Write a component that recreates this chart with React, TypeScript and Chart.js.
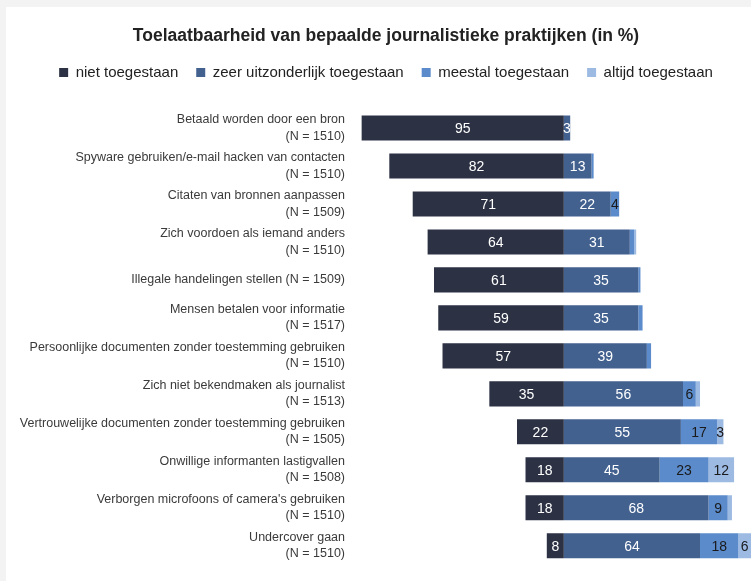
import React, { useEffect, useRef } from "react";
import { Chart, registerables } from "chart.js";

Chart.register(...registerables);

const titleText = "Toelaatbaarheid van bepaalde journalistieke praktijken (in %)";

const categories: (string | string[])[] = [
  ["Betaald worden door een bron", "(N = 1510)"],
  ["Spyware gebruiken/e-mail hacken van contacten", "(N = 1510)"],
  ["Citaten van bronnen aanpassen", "(N = 1509)"],
  ["Zich voordoen als iemand anders", "(N = 1510)"],
  "Illegale handelingen stellen (N = 1509)",
  ["Mensen betalen voor informatie", "(N = 1517)"],
  ["Persoonlijke documenten zonder toestemming gebruiken", "(N = 1510)"],
  ["Zich niet bekendmaken als journalist", "(N = 1513)"],
  ["Vertrouwelijke documenten zonder toestemming gebruiken", "(N = 1505)"],
  ["Onwillige informanten lastigvallen", "(N = 1508)"],
  ["Verborgen microfoons of camera's gebruiken", "(N = 1510)"],
  ["Undercover gaan", "(N = 1510)"],
];

const seriesNames = [
  "niet toegestaan",
  "zeer uitzonderlijk toegestaan",
  "meestal toegestaan",
  "altijd toegestaan",
];

// "niet toegestaan" is drawn to the left of zero
const nietToegestaan = [95, 82, 71, 64, 61, 59, 57, 35, 22, 18, 18, 8];
const zeerUitzonderlijk = [3, 13, 22, 31, 35, 35, 39, 56, 55, 45, 68, 64];
const meestal = [0, 1, 4, 2, 1, 2, 2, 6, 17, 23, 9, 18];
const altijd = [0, 0, 0, 1, 0, 0, 0, 2, 3, 12, 2, 6];

const colors = ["#2c3244", "#42618f", "#5b8bcb", "#9dbae3"];
const labelColors = ["#ffffff", "#ffffff", "#1a1a1a", "#1a1a1a"];

const FONT = "'Liberation Sans', Arial, sans-serif";

const valueLabels = {
  id: "valueLabels",
  afterDatasetsDraw(chart: any) {
    const ctx = chart.ctx;
    ctx.save();
    ctx.font = `14px ${FONT}`;
    ctx.textAlign = "center";
    ctx.textBaseline = "middle";
    chart.data.datasets.forEach((ds: any, di: number) => {
      const meta = chart.getDatasetMeta(di);
      meta.data.forEach((bar: any, i: number) => {
        const v = Math.abs(ds.data[i]);
        if (v < 3) return;
        const p = bar.getProps(["x", "y", "base"], true);
        ctx.fillStyle = labelColors[di];
        ctx.fillText(String(v), (p.x + p.base) / 2, p.y + 1);
      });
    });
    ctx.restore();
  },
};

const legendSpacing = {
  id: "legendSpacing",
  beforeInit(chart: any) {
    const legend = chart.legend;
    if (!legend) return;
    const origFit = legend.fit;
    legend.fit = function () {
      origFit.call(this);
      this.height += 19;
    };
  },
};

export default function App() {
  const canvasRef = useRef<HTMLCanvasElement | null>(null);

  useEffect(() => {
    if (!canvasRef.current) return;
    const chart = new Chart(canvasRef.current, {
      type: "bar",
      data: {
        labels: categories,
        datasets: [
          { label: seriesNames[0], data: nietToegestaan.map((v) => -v), backgroundColor: colors[0] },
          { label: seriesNames[1], data: zeerUitzonderlijk, backgroundColor: colors[1] },
          { label: seriesNames[2], data: meestal, backgroundColor: colors[2] },
          { label: seriesNames[3], data: altijd, backgroundColor: colors[3] },
        ],
      },
      options: {
        indexAxis: "y",
        responsive: false,
        animation: false,
        maintainAspectRatio: false,
        layout: { padding: { left: 0, right: 0, top: 0, bottom: 4 } },
        datasets: {
          bar: { categoryPercentage: 1, barPercentage: 0.66, borderWidth: 0 },
        },
        scales: {
          x: {
            stacked: true,
            min: -100,
            max: 95,
            display: false,
            grid: { display: false },
          },
          y: {
            stacked: true,
            grid: { display: false, drawTicks: false },
            border: { display: false },
            afterFit: (scale: any) => {
              scale.width = 345;
            },
            ticks: {
              padding: 6,
              color: "#3a3a3a",
              font: { family: FONT, size: 12.5, lineHeight: 1.3 },
              autoSkip: false,
            },
          },
        },
        plugins: {
          title: {
            display: true,
            text: titleText,
            color: "#222222",
            font: { family: FONT, size: 17.5, weight: "bold", lineHeight: 1.2 },
            padding: { top: 19, bottom: 0 },
          },
          legend: {
            display: true,
            position: "top",
            labels: {
              boxWidth: 9,
              boxHeight: 9,
              padding: 18,
              color: "#222222",
              font: { family: FONT, size: 15 },
            },
          },
          tooltip: { enabled: false },
        },
      },
      plugins: [valueLabels, legendSpacing],
    } as any);
    return () => chart.destroy();
  }, []);

  return (
    <div
      style={{
        position: "fixed",
        left: 0,
        top: 0,
        width: 751,
        height: 581,
        background: "#f3f3f3",
        overflow: "hidden",
      }}
    >
      <div style={{ position: "absolute", left: 6, top: 7, width: 760, height: 580, background: "#ffffff" }}>
        <canvas ref={canvasRef} width={760} height={580} />
      </div>
    </div>
  );
}
